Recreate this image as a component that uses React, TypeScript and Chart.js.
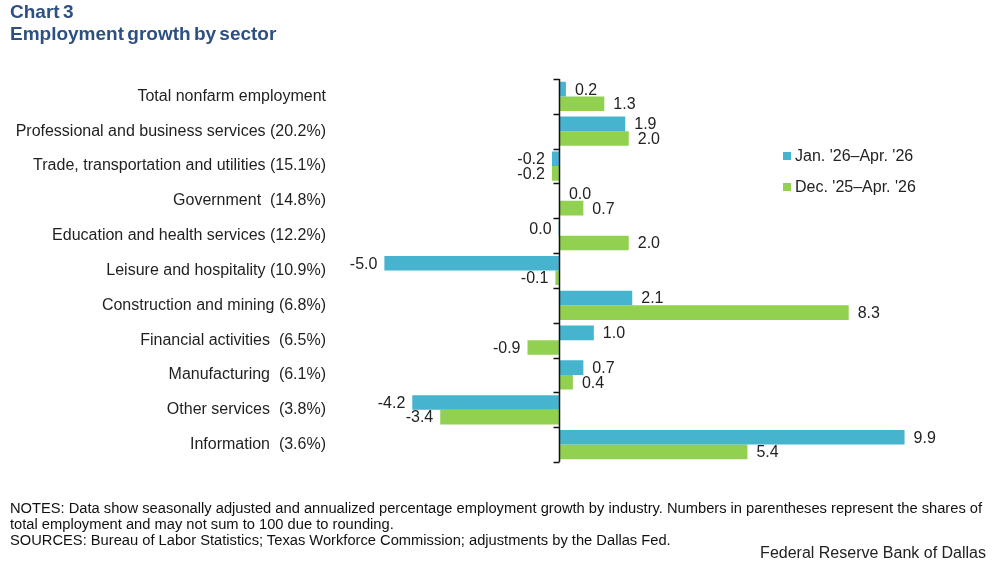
import React, { useEffect, useRef } from "react";
import { Chart, registerables } from "chart.js";

Chart.register(...registerables);

const categories = [
  "Total nonfarm employment",
  "Professional and business services (20.2%)",
  "Trade, transportation and utilities (15.1%)",
  "Government  (14.8%)",
  "Education and health services (12.2%)",
  "Leisure and hospitality (10.9%)",
  "Construction and mining (6.8%)",
  "Financial activities  (6.5%)",
  "Manufacturing  (6.1%)",
  "Other services  (3.8%)",
  "Information  (3.6%)",
];

const seriesNames = ["Jan. '26\u2013Apr. '26", "Dec. '25\u2013Apr. '26"];

const janApr = [0.2, 1.9, -0.2, 0.03, -0.01, -5.0, 2.1, 1.0, 0.7, -4.2, 9.9];
const decApr = [1.3, 2.0, -0.2, 0.7, 2.0, -0.1, 8.3, -0.9, 0.4, -3.4, 5.4];

const colors = ["#46B3CF", "#92D050"];
const FONT = "'Liberation Sans', Arial, sans-serif";

function fmt(v: number): string {
  if (Math.abs(v) < 0.05) return "0.0";
  return v.toFixed(1);
}

const overlayPlugin = {
  id: "overlay",
  afterDatasetsDraw(chart: any) {
    const ctx = chart.ctx;
    const { top, bottom } = chart.chartArea;
    const xScale = chart.scales.x;
    const zero = Math.round(xScale.getPixelForValue(0)) + 0.5;
    ctx.save();
    // data labels
    ctx.font = `16px ${FONT}`;
    ctx.fillStyle = "#222222";
    ctx.textBaseline = "middle";
    chart.data.datasets.forEach((ds: any, di: number) => {
      const meta = chart.getDatasetMeta(di);
      meta.data.forEach((el: any, i: number) => {
        const v = ds.data[i] as number;
        if (v >= 0) {
          ctx.textAlign = "left";
          ctx.fillText(fmt(v), el.x + 9, el.y + 1);
        } else {
          ctx.textAlign = "right";
          ctx.fillText(fmt(v), el.x - 7, el.y + 1);
        }
      });
    });
    // zero axis line with tick marks
    ctx.strokeStyle = "#111111";
    ctx.lineWidth = 1.5;
    ctx.beginPath();
    ctx.moveTo(zero, top);
    ctx.lineTo(zero, bottom);
    const n = categories.length;
    for (let i = 0; i <= n; i++) {
      const y = Math.round(top + (i * (bottom - top)) / n) + 0.5;
      ctx.moveTo(zero - 6, y);
      ctx.lineTo(zero, y);
    }
    ctx.stroke();
    // legend
    const lx = 783;
    const ly = [156, 187];
    ctx.font = `16px ${FONT}`;
    ctx.textAlign = "left";
    ctx.textBaseline = "middle";
    seriesNames.forEach((name, i) => {
      ctx.fillStyle = colors[i];
      ctx.fillRect(lx, ly[i] - 4, 8, 8);
      ctx.fillStyle = "#222222";
      ctx.fillText(name, lx + 12, ly[i] + 1);
    });
    ctx.restore();
  },
};

export default function App() {
  const ref = useRef<HTMLCanvasElement | null>(null);
  useEffect(() => {
    if (!ref.current) return;
    const chart = new Chart(ref.current, {
      type: "bar",
      data: {
        labels: categories,
        datasets: [
          {
            label: seriesNames[0],
            data: janApr,
            backgroundColor: colors[0],
            barPercentage: 1,
            categoryPercentage: 0.84,
          },
          {
            label: seriesNames[1],
            data: decApr,
            backgroundColor: colors[1],
            barPercentage: 1,
            categoryPercentage: 0.84,
          },
        ],
      },
      options: {
        indexAxis: "y",
        responsive: false,
        animation: false,
        devicePixelRatio: 1,
        layout: { padding: { top: 79, bottom: 103, left: 0, right: 71.5 } },
        scales: {
          x: { type: "linear", min: -6.5, max: 10.5, display: false },
          y: {
            type: "category",
            grid: { display: false, drawTicks: false },
            border: { display: false },
            ticks: {
              font: { size: 16, family: FONT },
              color: "#1f1f1f",
              padding: 6,
              autoSkip: false,
            },
            afterFit: (s: any) => {
              s.width = 332;
            },
          },
        },
        plugins: {
          legend: { display: false },
          tooltip: { enabled: false },
        },
      },
      plugins: [overlayPlugin],
    } as any);
    return () => chart.destroy();
  }, []);

  const titleStyle: React.CSSProperties = {
    position: "absolute",
    left: 10,
    fontFamily: FONT,
    fontWeight: "bold",
    fontSize: 19,
    lineHeight: "22px",
    color: "#2D5083",
    wordSpacing: "-2px",
    whiteSpace: "nowrap",
  };

  return (
    <div style={{ position: "absolute", left: 0, top: 0, width: 997, height: 565, background: "#fff", overflow: "hidden" }}>
      <canvas ref={ref} width={997} height={565} style={{ position: "absolute", left: 0, top: 0, width: 997, height: 565 }} />
      <div style={{ ...titleStyle, top: 1 }}>Chart 3</div>
      <div style={{ ...titleStyle, top: 23 }}>Employment growth by sector</div>
      <div
        style={{
          position: "absolute",
          left: 10,
          top: 500,
          width: 985,
          fontFamily: FONT,
          fontSize: 14.7,
          lineHeight: "16px",
          color: "#111",
        }}
      >
        NOTES: Data show seasonally adjusted and annualized percentage employment growth by industry. Numbers in parentheses represent the shares of
        total employment and may not sum to 100 due to rounding.
        <br />
        SOURCES: Bureau of Labor Statistics; Texas Workforce Commission; adjustments by the Dallas Fed.
      </div>
      <div
        style={{
          position: "absolute",
          right: 11,
          top: 544,
          fontFamily: FONT,
          fontSize: 16,
          lineHeight: "18px",
          color: "#222",
          whiteSpace: "nowrap",
        }}
      >
        Federal Reserve Bank of Dallas
      </div>
    </div>
  );
}
